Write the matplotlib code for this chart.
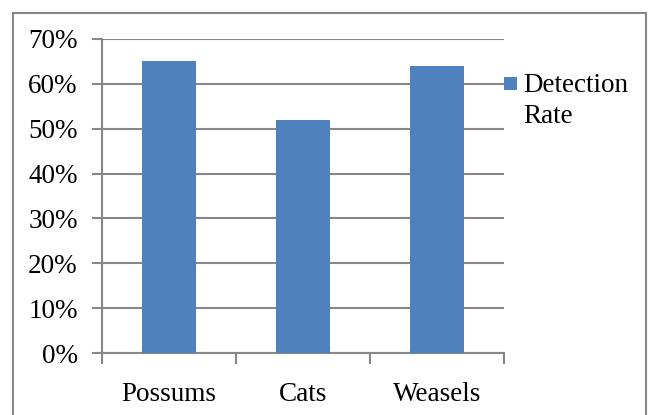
import matplotlib
matplotlib.use("Agg")
import matplotlib.pyplot as plt
from matplotlib.patches import Rectangle
from matplotlib.ticker import FuncFormatter

categories = ["Possums", "Cats", "Weasels"]
detection_rate = [0.65, 0.52, 0.64]
series_name = "Detection Rate"
y_ticks = [0, 0.1, 0.2, 0.3, 0.4, 0.5, 0.6, 0.7]

plt.rcParams["font.family"] = ["Liberation Serif", "DejaVu Serif"]

W, H = 650, 415
FS = 19.5
bar_color = "#4f81bd"
grid_col = "#878787"

fig = plt.figure(figsize=(W / 100, H / 100), dpi=100)
fig.patch.set_facecolor("white")

# outer chart frame (bottom edge runs off the image)
fig.patches.append(Rectangle((13 / W, -0.05), (646 - 13) / W, 1.05 - 13 / H,
                             transform=fig.transFigure, fill=False,
                             edgecolor="#888888", linewidth=1.5))

left, right, top, bottom = 102, 504, 39, 353
ax = fig.add_axes([left / W, 1 - bottom / H, (right - left) / W, (bottom - top) / H])

x = list(range(len(categories)))
ax.bar(x, detection_rate, width=0.4, color=bar_color, zorder=3)

ax.set_xlim(-0.5, len(categories) - 0.5)
ax.set_ylim(0, 0.7)
ax.set_yticks(y_ticks)
ax.yaxis.set_major_formatter(FuncFormatter(lambda v, p: f"{v * 100:.0f}%"))
ax.yaxis.grid(True, color=grid_col, linewidth=1.5, zorder=0)
ax.set_axisbelow(True)

for s in ["top", "right"]:
    ax.spines[s].set_visible(False)
for s in ["left", "bottom"]:
    ax.spines[s].set_color(grid_col)
    ax.spines[s].set_linewidth(1.5)

ax.tick_params(axis="y", length=7, width=1.5, color=grid_col, direction="out",
               labelsize=FS, pad=10.5)
ax.set_xticks([i - 0.5 for i in range(len(categories) + 1)], minor=True)
ax.set_xticks(x)
ax.set_xticklabels(categories, fontsize=FS)
ax.tick_params(axis="x", which="major", length=0, pad=21)
ax.tick_params(axis="x", which="minor", length=8, width=1.5, color=grid_col,
               direction="out")

# legend: square swatch beside the first line of the series name
fig.patches.append(Rectangle((504 / W, 1 - 90 / H), 13 / W, 13 / H,
                             transform=fig.transFigure, facecolor=bar_color,
                             edgecolor="none"))
name_words = series_name.split(" ")
fig.text(523 / W, 1 - 92 / H, name_words[0], fontsize=FS, ha="left",
         va="baseline")
fig.text(523 / W, 1 - 123 / H, name_words[1], fontsize=FS, ha="left",
         va="baseline")

fig.savefig("out.png", dpi=100, facecolor="white")
